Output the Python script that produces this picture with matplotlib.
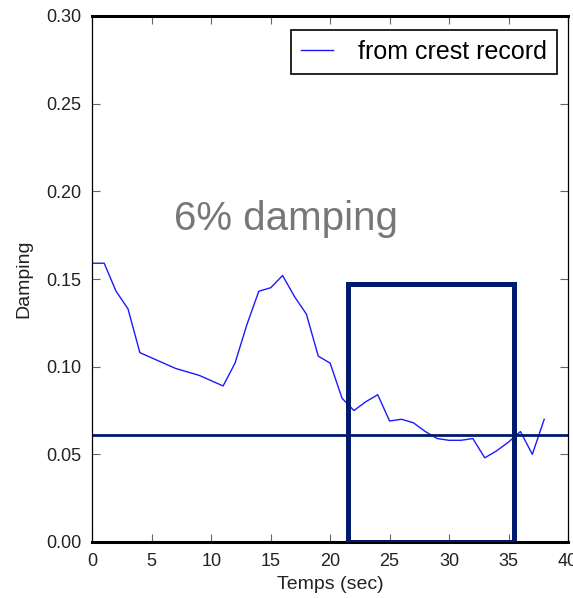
import matplotlib
matplotlib.use("Agg")
import matplotlib.pyplot as plt
from matplotlib.patches import Rectangle

plt.rcParams['font.family'] = ['Liberation Sans', 'DejaVu Sans']

# Data
time_sec = [0, 1, 2, 3, 4, 5, 6, 7, 8, 9, 10, 11, 12, 13, 14, 15, 16, 17, 18, 19,
            20, 21, 22, 23, 24, 25, 26, 27, 28, 29, 30, 31, 32, 33, 34, 35, 36, 37, 38]
damping = [0.159, 0.159, 0.143, 0.133, 0.108, 0.105, 0.102, 0.099, 0.097, 0.095,
           0.092, 0.089, 0.102, 0.124, 0.143, 0.145, 0.152, 0.140, 0.130, 0.106,
           0.102, 0.082, 0.075, 0.080, 0.084, 0.069, 0.070, 0.068, 0.063, 0.059,
           0.058, 0.058, 0.059, 0.048, 0.052, 0.057, 0.063, 0.050, 0.070]
target_damping = 0.061
box_x = [21.5, 35.5]
box_top = 0.147
annotation = "6% damping"
x_ticks = [0, 5, 10, 15, 20, 25, 30, 35, 40]
y_ticks = [0.00, 0.05, 0.10, 0.15, 0.20, 0.25, 0.30]

fig = plt.figure(figsize=(5.73, 5.98), dpi=100)
ax = fig.add_axes([92.3 / 573, (598 - 542) / 598, (568 - 92.3) / 573, (542 - 16) / 598])

ax.plot(time_sec, damping, color='#1a1aff', linewidth=1.0, label='from crest record')
ax.axhline(target_damping, color='#001a6e', linewidth=2.0)
ax.add_patch(Rectangle((box_x[0], 0.0), box_x[1] - box_x[0], box_top,
                       fill=False, edgecolor='#001a6e', linewidth=3.6, zorder=3))
ax.text(6.9, 0.178, annotation, color='#777777', fontsize=29)

ax.set_xlim(0, 40)
ax.set_ylim(0, 0.30)
ax.set_xticks(x_ticks)
ax.set_yticks(y_ticks)
ax.set_xticklabels([str(t) for t in x_ticks])
ax.set_yticklabels([f"{t:.2f}" for t in y_ticks])
ax.tick_params(direction='in', length=6, width=0.8, color='#666666',
               top=True, right=True, labelsize=13, pad=8, labelcolor='#222222')
ax.set_xlabel('Temps (sec)', fontsize=14, color='#222222', labelpad=4)
ax.set_ylabel('Damping', fontsize=14, color='#222222', labelpad=10)

for side in ['top', 'bottom']:
    ax.spines[side].set_linewidth(2.2)
for side in ['left', 'right']:
    ax.spines[side].set_linewidth(0.9)

leg = ax.legend(loc='upper right', fontsize=18, fancybox=False, edgecolor='black',
                framealpha=1, handlelength=1.3, borderpad=0.4, handletextpad=1.0,
                borderaxespad=0.0, bbox_to_anchor=(0.977, 0.973))
leg.get_frame().set_linewidth(1.2)

fig.savefig('out.png', dpi=100)
